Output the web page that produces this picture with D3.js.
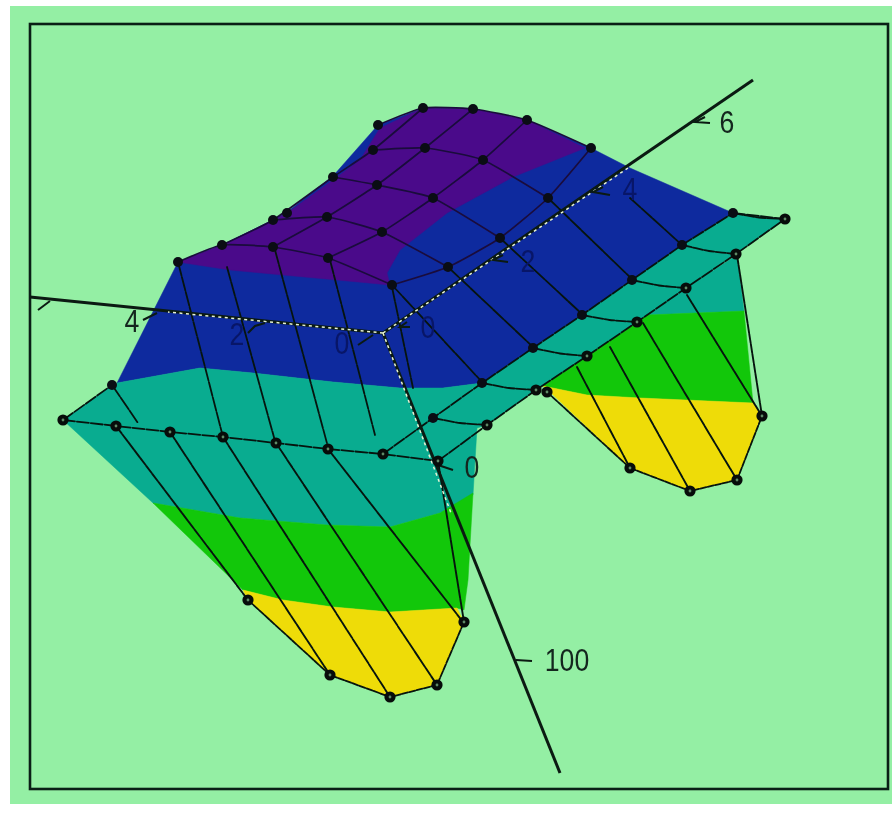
<!DOCTYPE html>
<html><head><meta charset="utf-8">
<script src="https://cdn.jsdelivr.net/npm/d3@7/dist/d3.min.js"></script>
<style>html,body{margin:0;padding:0;background:#fff}svg{display:block;filter:blur(.7px)}text{font-family:"Liberation Sans",Arial,sans-serif}</style>
</head><body><svg id="c" width="892" height="815"></svg>
<script>
// All values are positions in the projected plot plane.
const frameCorners = [[30,24],[888,789]];
const plateX = [10,892], plateY = [6,804];

const blueBand = [[178,262],[222,245],[273,220],[287,212],[333,176],[378,125],[423,108],[473,109],[527,120],[591,148],[630,168],[733,213],[682,245],[632,280],[582,315],[533,348],[482,383],[443,388],[400,388],[333,382],[253,373],[200,368],[117,383]];
const purpleBand = [[178,262],[222,245],[273,220],[287,213],[333,180],[360,160],[380,128],[423,108],[473,109],[527,120],[585,148],[513,177],[447,213],[400,250],[387,273],[390,285],[337,280],[283,275],[230,270]];
const tealBand = [[63,420],[112,385],[117,383],[200,368],[253,373],[333,382],[400,388],[443,388],[482,383],[533,348],[582,315],[632,280],[682,245],[733,213],[785,219],[736,254],[686,288],[637,322],[587,356],[536,390],[487,425],[477,428],[473,495],[440,513],[390,527],[327,525],[240,518],[153,503]];
const greenBandFront = [[153,503],[240,518],[327,525],[390,527],[440,513],[473,493],[468,580],[464,610],[457,608],[390,612],[333,607],[283,600],[243,590]];
const yellowBandFront = [[243,590],[283,600],[333,607],[390,612],[457,608],[464,622],[437,685],[390,697],[330,675],[248,600]];
const tealBandBack = [[737,255],[744,311],[647,315],[638,322],[686,288]];
const greenBandBack = [[543,386],[587,356],[638,322],[647,315],[744,311],[753,403],[640,398],[587,395]];
const yellowBandBack = [[543,386],[587,395],[640,398],[753,403],[762,416],[737,480],[690,491],[630,468],[550,392]];
const surfaceBands = [
  {name:"blue", pts:blueBand},{name:"purple", pts:purpleBand},{name:"teal", pts:tealBand},
  {name:"green", pts:greenBandFront},{name:"yellow", pts:yellowBandFront},
  {name:"teal", pts:tealBandBack},{name:"green", pts:greenBandBack},{name:"yellow", pts:yellowBandBack}];

const plateauRows = [
  [[178,262],[222,245],[273,247],[328,258],[392,285]],
  [[273,220],[327,217],[382,232],[448,267]],
  [[333,177],[377,185],[433,198],[500,238]],
  [[373,150],[425,148],[483,160],[548,198]],
  [[378,125],[423,108],[473,109],[527,120],[591,148]]];
const plateauColumns = [
  [[392,285],[448,267],[500,238],[548,198],[591,148]],
  [[328,258],[382,232],[433,198],[483,160],[527,120]],
  [[273,247],[327,217],[377,185],[425,148],[473,109]],
  [[222,245],[273,220],[333,177],[373,150],[423,108]]];
const slopeLines = [
  [[392,285],[483,383]],[[448,267],[533,347]],[[500,238],[583,315]],[[548,198],[633,280]],[[630,198],[682,245]],
  [[178,262],[223,437]],[[227,267],[275,441]],[[275,250],[328,447]],[[330,260],[375,435]],[[392,287],[413,388]],[[112,385],[138,423]]];
const wingLines = [
  [[116,426],[248,600]],[[170,432],[330,675]],[[223,437],[390,697]],[[276,443],[437,685]],[[328,449],[463,622]],[[438,461],[464,622]],
  [[577,367],[630,468]],[[610,347],[690,491]],[[643,323],[737,480]],[[687,295],[762,416]],[[737,255],[762,416]]];
const wingOutlines = [
  [[248,600],[330,675],[390,697],[437,685],[464,622]],
  [[547,392],[630,468],[690,491],[737,480],[762,416]]];

const ridgeFront = [[63,420],[116,426],[170,432],[223,437],[276,443],[328,449],[383,454],[438,461]];
const ridgeOuter = [[438,461],[487,425],[536,390],[587,356],[637,322],[686,288],[736,254],[785,219]];
const ridgeInner = [[383,454],[433,418],[482,383],[533,348],[582,315],[632,280],[682,245],[733,213]];
const stripEnds = [[63,420],[112,385]];
const topEnd = [[733,213],[785,219]];

const plainNodes = [[178,262],[222,245],[273,220],[287,213],[333,177],[378,125],[423,108],[473,109],[527,120],[591,148],[733,213],[112,385],[273,247],[328,258],[392,285],[327,217],[382,232],[377,185],[433,198],[373,150],[425,148],[483,160],[448,267],[500,238],[548,198],[482,383],[533,348],[582,315],[632,280],[682,245],[433,418]];
const ringNodes = [[63,420],[116,426],[170,432],[223,437],[276,443],[328,449],[383,454],[438,461],[487,425],[536,390],[587,356],[637,322],[686,288],[736,254],[785,219],[248,600],[330,675],[390,697],[437,685],[464,622],[547,392],[630,468],[690,491],[737,480],[762,416]];

const axisOrigin = [383,333];
const axisEnds = [[30,297],[753,80],[560,773]];
const dottedEnds = [[168,312],[628,168],[451,513]];
const tickSegments = [
  [[705,117],[695,122],[710,123]],[[603,187],[593,192],[610,195]],[[503,255],[493,260],[508,262]],[[407,322],[400,327],[410,327]],
  [[143,320],[157,313]],[[248,333],[255,326],[265,323]],[[358,345],[373,335]],[[38,310],[50,301]],
  [[438,465],[453,470]],[[516,660],[532,661]]];
const openTickLabels = [["6",727,122],["4",132,321],["0",472,467],["100",567,660]];
const surfaceTickLabels = [["4",630,189],["2",528,261],["0",428,327],["2",237,334],["0",342,343]];

const bandColor = d3.scaleOrdinal().domain(["purple","blue","teal","green","yellow"]).range(["#4a0a8a","#0e2a9e","#09ac90","#12c70a","#eedc08"]);
const px = d3.scaleLinear().domain(frameCorners.map(d=>d[0])).range([30,888]);
const py = d3.scaleLinear().domain(frameCorners.map(d=>d[1])).range([24,789]);
const line = d3.line().x(d=>px(d[0])).y(d=>py(d[1]));
const curve = d3.line().x(d=>px(d[0])).y(d=>py(d[1])).curve(d3.curveCardinal.tension(.5));
const ink = "#06140e";
const svg = d3.select("#c");

svg.append("rect").attr("x",px(plateX[0])).attr("y",py(plateY[0])).attr("width",px(plateX[1])-px(plateX[0])).attr("height",py(plateY[1])-py(plateY[0])).attr("fill","#94efa4");
svg.append("rect").attr("x",px(frameCorners[0][0])).attr("y",py(frameCorners[0][1])).attr("width",px(frameCorners[1][0])-px(frameCorners[0][0])).attr("height",py(frameCorners[1][1])-py(frameCorners[0][1])).attr("fill","none").attr("stroke","#0a1f16").attr("stroke-width",2.6);

svg.append("g").selectAll("path").data(surfaceBands).join("path")
  .attr("d",d=>line(d.pts)+"Z").attr("fill",d=>bandColor(d.name)).attr("stroke",d=>bandColor(d.name)).attr("stroke-width",.5);

const lineGroup = svg.append("g").attr("fill","none").attr("stroke",ink).attr("stroke-linecap","round");
lineGroup.selectAll(".cur").data(plateauRows.concat(plateauColumns)).join("path").attr("class","cur")
  .attr("d",curve).attr("stroke-width",1.7).attr("stroke","#1a0c3c");
lineGroup.selectAll(".slope").data(slopeLines).join("path").attr("class","slope")
  .attr("d",line).attr("stroke-width",1.8).attr("stroke-dasharray","14 1.5");
lineGroup.selectAll(".wing").data(wingLines).join("path").attr("class","wing")
  .attr("d",line).attr("stroke-width",1.9).attr("stroke-dasharray","9 1");
lineGroup.selectAll(".out").data(wingOutlines).join("path").attr("class","out")
  .attr("d",line).attr("stroke-width",1.8).attr("stroke-dasharray","6 1.5");
lineGroup.selectAll(".ridge").data([ridgeFront,ridgeOuter,ridgeInner,stripEnds,topEnd]).join("path").attr("class","ridge")
  .attr("d",line).attr("stroke-width",1.8).attr("stroke-dasharray","12 2");
lineGroup.selectAll(".rung").data(d3.range(1,8)).join("path").attr("class","rung")
  .attr("d",i=>curve([ridgeInner[i],[(ridgeInner[i][0]+ridgeOuter[i][0])/2,(ridgeInner[i][1]+ridgeOuter[i][1])/2+1.5],ridgeOuter[i]]))
  .attr("stroke-width",1.8).attr("stroke-dasharray","10 1.5");

const axisGroup = svg.append("g").attr("fill","none");
axisGroup.selectAll(".ax").data(axisEnds).join("path").attr("class","ax")
  .attr("d",d=>line([axisOrigin,d])).attr("stroke","#0b1a12").attr("stroke-width",3);
axisGroup.selectAll(".dot").data(dottedEnds).join("path").attr("class","dot")
  .attr("d",d=>line([axisOrigin,d])).attr("stroke","#e6f2d4").attr("stroke-width",1.5).attr("stroke-dasharray","3 3.5");
axisGroup.selectAll(".tick").data(tickSegments).join("path").attr("class","tick")
  .attr("d",line).attr("stroke","#0b1a12").attr("stroke-width",2);

svg.append("g").selectAll("circle").data(plainNodes).join("circle")
  .attr("cx",d=>px(d[0])).attr("cy",d=>py(d[1])).attr("r",5).attr("fill","#0a0d14");
const rings = svg.append("g");
rings.selectAll(".o").data(ringNodes).join("circle").attr("class","o")
  .attr("cx",d=>px(d[0])).attr("cy",d=>py(d[1])).attr("r",5.6).attr("fill","#070c0a");
rings.selectAll(".i").data(ringNodes).join("circle").attr("class","i")
  .attr("cx",d=>px(d[0])).attr("cy",d=>py(d[1])).attr("r",1.4).attr("fill","#5e8a66");

const labelGroup = svg.append("g").attr("font-size",31).attr("text-anchor","middle").attr("dominant-baseline","central");
const place = d=>`translate(${px(d[1])},${py(d[2])}) scale(.86,1)`;
labelGroup.selectAll(".open").data(openTickLabels).join("text").attr("class","open")
  .attr("transform",place).attr("fill","#14261e").text(d=>d[0]);
labelGroup.selectAll(".onsurf").data(surfaceTickLabels).join("text").attr("class","onsurf")
  .attr("transform",place).attr("fill","#081668").text(d=>d[0]);
</script></body></html>
